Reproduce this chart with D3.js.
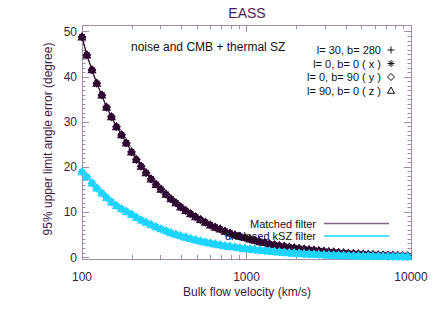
<!DOCTYPE html>
<html>
<head>
<meta charset="utf-8">
<script src="https://cdn.jsdelivr.net/npm/d3@7"></script>
<style>
  body { margin: 0; background: #fff; }
  text { font-family: "Liberation Sans", Arial, sans-serif; }
</style>
</head>
<body>
<div id="chart"></div>
<script>
// velocities (km/s)
var velocity = [100, 107, 115, 123, 132, 141, 151, 162, 174, 186,
  200, 214, 229, 245, 263, 282, 302, 324, 347, 372,
  398, 427, 457, 490, 525, 562, 603, 646, 692, 741,
  794, 851, 912, 977, 1047, 1122, 1202, 1288, 1380, 1479,
  1585, 1698, 1820, 1950, 2089, 2239, 2399, 2570, 2754, 2951,
  3162, 3388, 3631, 3890, 4169, 4467, 4786, 5129, 5495, 5888,
  6310, 6761, 7244, 7762, 8318, 8913, 9550];

// 95% upper limit angle error (degree), matched filter
var matchedErr = [48.8, 44.8, 41.5, 38.5, 35.9, 33.2, 31.1, 28.9, 27.1, 25.3,
  23.3, 21.6, 20.1, 18.7, 17.3, 16.1, 15.0, 13.9, 12.9, 12.0,
  11.1, 10.3, 9.6, 8.9, 8.3, 7.7, 7.1, 6.6, 6.2, 5.7,
  5.3, 4.9, 4.6, 4.3, 4.0, 3.7, 3.4, 3.2, 2.9, 2.7,
  2.5, 2.36, 2.19, 2.03, 1.89, 1.75, 1.63, 1.51, 1.40, 1.28,
  1.18, 1.08, 0.99, 0.91, 0.83, 0.76, 0.69, 0.63, 0.57, 0.52,
  0.47, 0.43, 0.39, 0.35, 0.32, 0.29, 0.26];

// unbiased kSZ filter
var unbiasedErr = [18.9, 17.8, 16.4, 15.3, 14.2, 13.2, 12.2, 11.4, 10.7, 10.1,
  9.5, 8.8, 8.2, 7.7, 7.2, 6.7, 6.25, 5.8, 5.4, 5.05,
  4.7, 4.4, 4.1, 3.8, 3.55, 3.3, 3.1, 2.9, 2.7, 2.5,
  2.35, 2.2, 2.05, 1.9, 1.78, 1.65, 1.53, 1.42, 1.32, 1.22,
  1.13, 1.04, 0.96, 0.88, 0.81, 0.74, 0.68, 0.62, 0.56, 0.51,
  0.46, 0.42, 0.38, 0.34, 0.31, 0.28, 0.25, 0.22, 0.2, 0.18,
  0.16, 0.14, 0.12, 0.11, 0.1, 0.09, 0.08];

var sightlines = ["l= 30, b= 280", "l= 0, b= 0 ( x )", "l= 0, b= 90 ( y )", "l= 90, b= 0 ( z )"];
var symbols = ["plus", "asterisk", "diamond", "triangle"];
var filters = ["Matched filter", "unbiased kSZ filter"];
var xTicks = [100, 1000, 10000];
var yTicks = [0, 10, 20, 30, 40, 50];

var svgWidth = 436;
var svgHeight = 312;

var margin = { top: 25, right: 25, bottom: 53, left: 82 };
var plotLeft = margin.left;
var plotRight = svgWidth - margin.right;
var plotTop = margin.top;
var plotBottom = svgHeight - margin.bottom;

var axisColor = "#a38dab";
var textColor = "#3e1a44";
var darkColor = "#2e0830";
var cyanColor = "#1cd4ff";

var svg = d3.select("#chart")
  .append("svg")
  .attr("width", svgWidth)
  .attr("height", svgHeight);

var x = d3.scaleLog().domain([100, 10000]).range([plotLeft, plotRight]);
var y = d3.scaleLinear().domain([-0.44, 51.44]).range([plotBottom, plotTop]);

// symbol shapes, IDL style
function symbolPath(type, s) {
  if (type === "plus") return `M${-s},0H${s}M0,${-s}V${s}`;
  if (type === "asterisk") {
    var d = s * 0.75;
    return `M${-s},0H${s}M0,${-s}V${s}M${-d},${-d}L${d},${d}M${-d},${d}L${d},${-d}`;
  }
  if (type === "diamond") return `M0,${-s}L${s},0L0,${s}L${-s},0Z`;
  return `M0,${-s}L${s},${s * 0.8}L${-s},${s * 0.8}Z`;
}

// minor ticks
var xMinor = [];
[100, 1000].forEach(function(dec) {
  for (var k = 2; k <= 9; k++) xMinor.push(dec * k);
});
var yMinor = d3.range(1, 51).filter(d => d % 10 !== 0);

var axes = svg.append("g")
  .attr("stroke", axisColor)
  .attr("stroke-width", 1)
  .attr("fill", "none");

axes.append("rect")
  .attr("x", plotLeft + 0.5)
  .attr("y", plotTop + 0.5)
  .attr("width", plotRight - plotLeft)
  .attr("height", plotBottom - plotTop);

// x ticks (bottom and top, pointing inward)
xTicks.concat(xMinor).forEach(function(v) {
  var len = xTicks.indexOf(v) >= 0 ? 7 : 4;
  var px = Math.round(x(v)) + 0.5;
  axes.append("line").attr("x1", px).attr("x2", px).attr("y1", plotBottom).attr("y2", plotBottom - len);
  axes.append("line").attr("x1", px).attr("x2", px).attr("y1", plotTop).attr("y2", plotTop + len);
});

// y ticks (left and right)
yTicks.concat(yMinor).forEach(function(v) {
  var len = yTicks.indexOf(v) >= 0 ? 7 : 3.5;
  var py = Math.round(y(v)) + 0.5;
  axes.append("line").attr("y1", py).attr("y2", py).attr("x1", plotLeft).attr("x2", plotLeft + len);
  axes.append("line").attr("y1", py).attr("y2", py).attr("x1", plotRight).attr("x2", plotRight - len);
});

// tick labels
svg.selectAll(".xlab")
  .data(xTicks)
  .enter()
  .append("text")
  .attr("x", d => x(d))
  .attr("y", 281)
  .attr("text-anchor", "middle")
  .attr("font-size", 12)
  .attr("fill", textColor)
  .text(d => d);

svg.selectAll(".ylab")
  .data(yTicks)
  .enter()
  .append("text")
  .attr("x", 77)
  .attr("y", d => y(d) + 4.5)
  .attr("text-anchor", "end")
  .attr("font-size", 12)
  .attr("fill", textColor)
  .text(d => d);

// axis titles
svg.append("text")
  .attr("x", 247)
  .attr("y", 296)
  .attr("text-anchor", "middle")
  .attr("font-size", 12)
  .attr("fill", textColor)
  .text("Bulk flow velocity (km/s)");

svg.append("text")
  .attr("transform", "translate(52, 139) rotate(-90)")
  .attr("text-anchor", "middle")
  .attr("font-size", 12)
  .attr("fill", textColor)
  .text("95% upper limit angle error (degree)");

svg.append("text")
  .attr("x", 247)
  .attr("y", 18)
  .attr("text-anchor", "middle")
  .attr("font-size", 14)
  .attr("fill", "#4a1b52")
  .text("EASS");

// curves: one per filter and sightline
var plot = svg.append("g");
var series = [
  { values: matchedErr, color: darkColor },
  { values: unbiasedErr, color: cyanColor }
];

var line = d3.line()
  .x(d => x(d[0]))
  .y(d => y(d[1]));

series.forEach(function(s) {
  symbols.forEach(function(sym) {
    var pts = velocity.map((v, i) => [v, s.values[i]]);
    plot.append("path")
      .attr("d", line(pts))
      .attr("fill", "none")
      .attr("stroke", s.color)
      .attr("stroke-width", 0.6);
    plot.selectAll(null)
      .data(pts)
      .enter()
      .append("path")
      .attr("transform", d => `translate(${x(d[0])},${y(d[1])})`)
      .attr("d", symbolPath(sym, 3.6))
      .attr("fill", "none")
      .attr("stroke", s.color)
      .attr("stroke-width", 1.2);
  });
});

// annotation
svg.append("text")
  .attr("x", 131)
  .attr("y", 51)
  .attr("font-size", 12)
  .attr("fill", "#111")
  .text("noise and CMB + thermal SZ");

// sightline legend
var legRows = [50, 63.5, 77, 90.5];
sightlines.forEach(function(label, i) {
  svg.append("text")
    .attr("x", 381)
    .attr("y", legRows[i] + 4)
    .attr("text-anchor", "end")
    .attr("font-size", 11)
    .attr("fill", "#111")
    .text(label);
  svg.append("path")
    .attr("transform", `translate(391,${legRows[i]})`)
    .attr("d", symbolPath(symbols[i], 3.5))
    .attr("fill", "none")
    .attr("stroke", "#111")
    .attr("stroke-width", 1);
});

// filter legend
var filterColors = ["#7f6486", cyanColor];
var filterRows = [223.5, 236];
filters.forEach(function(label, i) {
  svg.append("text")
    .attr("x", 316)
    .attr("y", filterRows[i] + 4)
    .attr("text-anchor", "end")
    .attr("font-size", 11)
    .attr("fill", "#111")
    .text(label);
  svg.append("line")
    .attr("x1", 324)
    .attr("x2", 389)
    .attr("y1", filterRows[i])
    .attr("y2", filterRows[i])
    .attr("stroke", filterColors[i])
    .attr("stroke-width", 1.5);
});
</script>
</body>
</html>
